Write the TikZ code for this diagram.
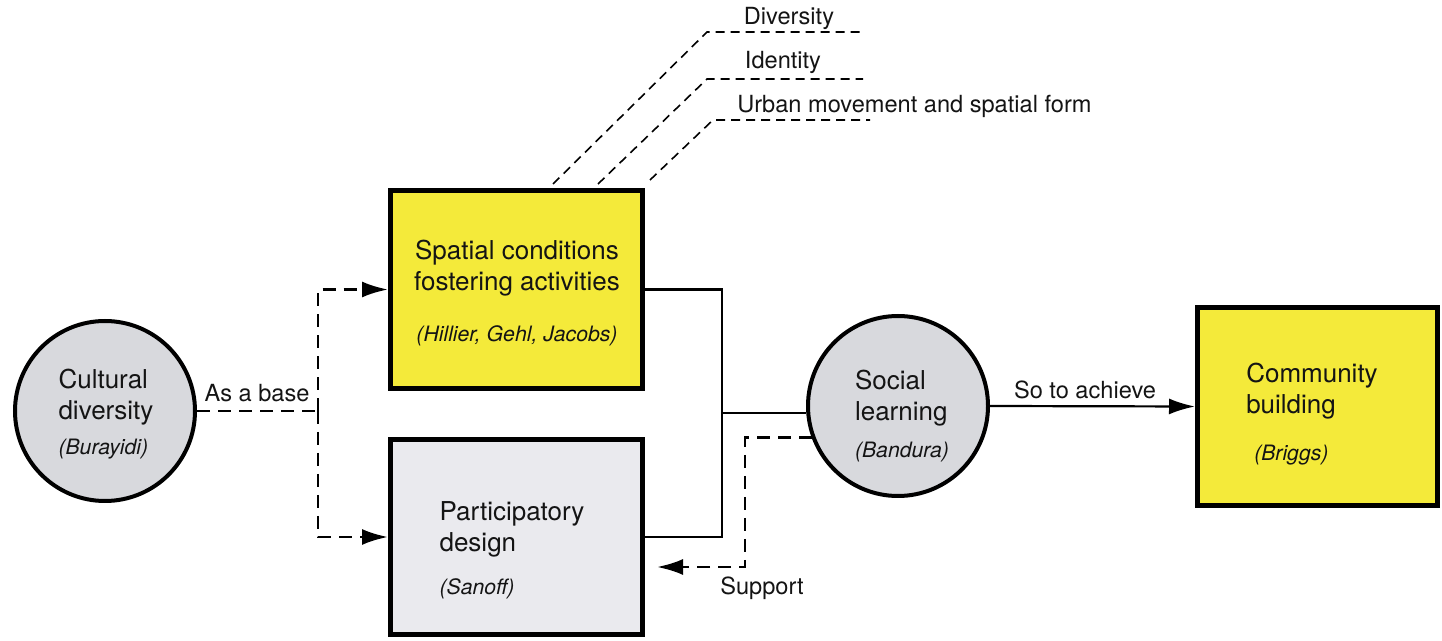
\documentclass[tikz,border=0pt]{standalone}
\usepackage{fontspec}
\setmainfont{TeX Gyre Heros}
\usetikzlibrary{arrows.meta, calc}

\definecolor{boxyellow}{RGB}{244,234,58}
\definecolor{boxgrey}{RGB}{234,234,238}
\definecolor{bubblegrey}{RGB}{216,217,221}
\definecolor{inkgrey}{RGB}{20,20,20}

\newcommand{\srcref}[1]{{\itshape\fontsize{10.6}{13}\selectfont #1}}

\tikzset{
  panel/.style={draw=black, line width=2.5pt, inner sep=0pt, minimum width=126pt, minimum height=99pt},
  bubble/.style={circle, draw=black, line width=2pt, fill=bubblegrey, inner sep=0pt, minimum size=90pt},
  maintext/.style={font=\fontsize{13}{15.5}\selectfont, text=inkgrey, inner sep=0pt},
  lbl/.style={font=\fontsize{11.8}{14}\selectfont, text=inkgrey, inner sep=0pt},
  link/.style={line width=1.1pt},
  dlink/.style={line width=1.4pt, dash pattern=on 6.5pt off 4pt},
  leader/.style={line width=0.8pt, dash pattern=on 4.5pt off 3pt},
  headed/.style={-{Latex[length=13pt, width=8pt]}}
}

\begin{document}
\begin{tikzpicture}[x=0.5pt, y=-0.5pt]
    \useasboundingbox (0,0) rectangle (1442,641);

    % boxes and circles
    \node[bubble] (cult) at (105,411) {};
    \node[panel, fill=boxyellow] (spat) at (516.5,289.5) {};
    \node[panel, fill=boxgrey, minimum height=97.5pt] (part) at (516.5,537) {};
    \node[bubble] (soc) at (898,406) {};
    \node[panel, fill=boxyellow, minimum width=120pt] (comm) at (1317.5,406.5) {};

    % texts inside
    \node[maintext, align=left] (culttxt) at (106,414) {Cultural\\diversity\\[2pt]\srcref{(Burayidi)}};
    \node[maintext, align=center] (spattxt) at (517,293) {Spatial conditions\\fostering activities\\[10pt]\srcref{(Hillier, Gehl, Jacobs)}};
    \node[maintext, align=left] (parttxt) at (512,550) {Participatory\\design\\[6pt]\srcref{(Sanoff)}};
    \node[maintext, align=left] (soctxt) at (902,416) {Social\\learning\\[3pt]\srcref{(Bandura)}};
    \node[maintext, align=left] (commtxt) at (1312,414) {Community\\building\\[8pt]\hspace{4pt}\srcref{(Briggs)}};

    % as a base
    \coordinate (split) at (318,411);
    \draw[dlink] (cult.east) -- (split);
    \draw[dlink, headed] (split) |- (spat.west);
    \draw[dlink, headed] (split) |- (part.west);
    \node[lbl] (base) at (257,393) {As a base};

    % both lead to social learning
    \coordinate (join) at (722,413);
    \draw[link] (spat.east) -| (join) |- (part.east);
    \draw[link] (join) -- (join -| soc.west);

    % support back
    \coordinate (back) at (745,567);
    \draw[dlink, headed] (soc.200) -| (back) -- ($(part.east |- back)+(12,0)$);
    \node[lbl] (supp) at (762,588) {Support};

    % so to achieve
    \draw[link, headed] (soc.east) -- (comm.west);
    \node[lbl] (achv) at (1085,390) {So to achieve};

    % spatial aspects
    \node[lbl] (div) at (789,18) {Diversity};
    \node[lbl] (ide) at (783,62) {Identity};
    \node[lbl, anchor=west] (urb) at (737,106) {Urban movement and spatial form};
    \coordinate (divend) at (863,32);
    \coordinate (ideend) at (863,79);
    \coordinate (urbend) at (870,120);
    \draw[leader] ($(spat.north west)+(165,-4)$) -- (707,32) -- (divend);
    \draw[leader] ($(spat.north west)+(210,-4)$) -- (707,79) -- (ideend);
    \draw[leader] ($(spat.north west)+(262,-8)$) -- (713,120) -- (urbend);
\end{tikzpicture}
\end{document}
